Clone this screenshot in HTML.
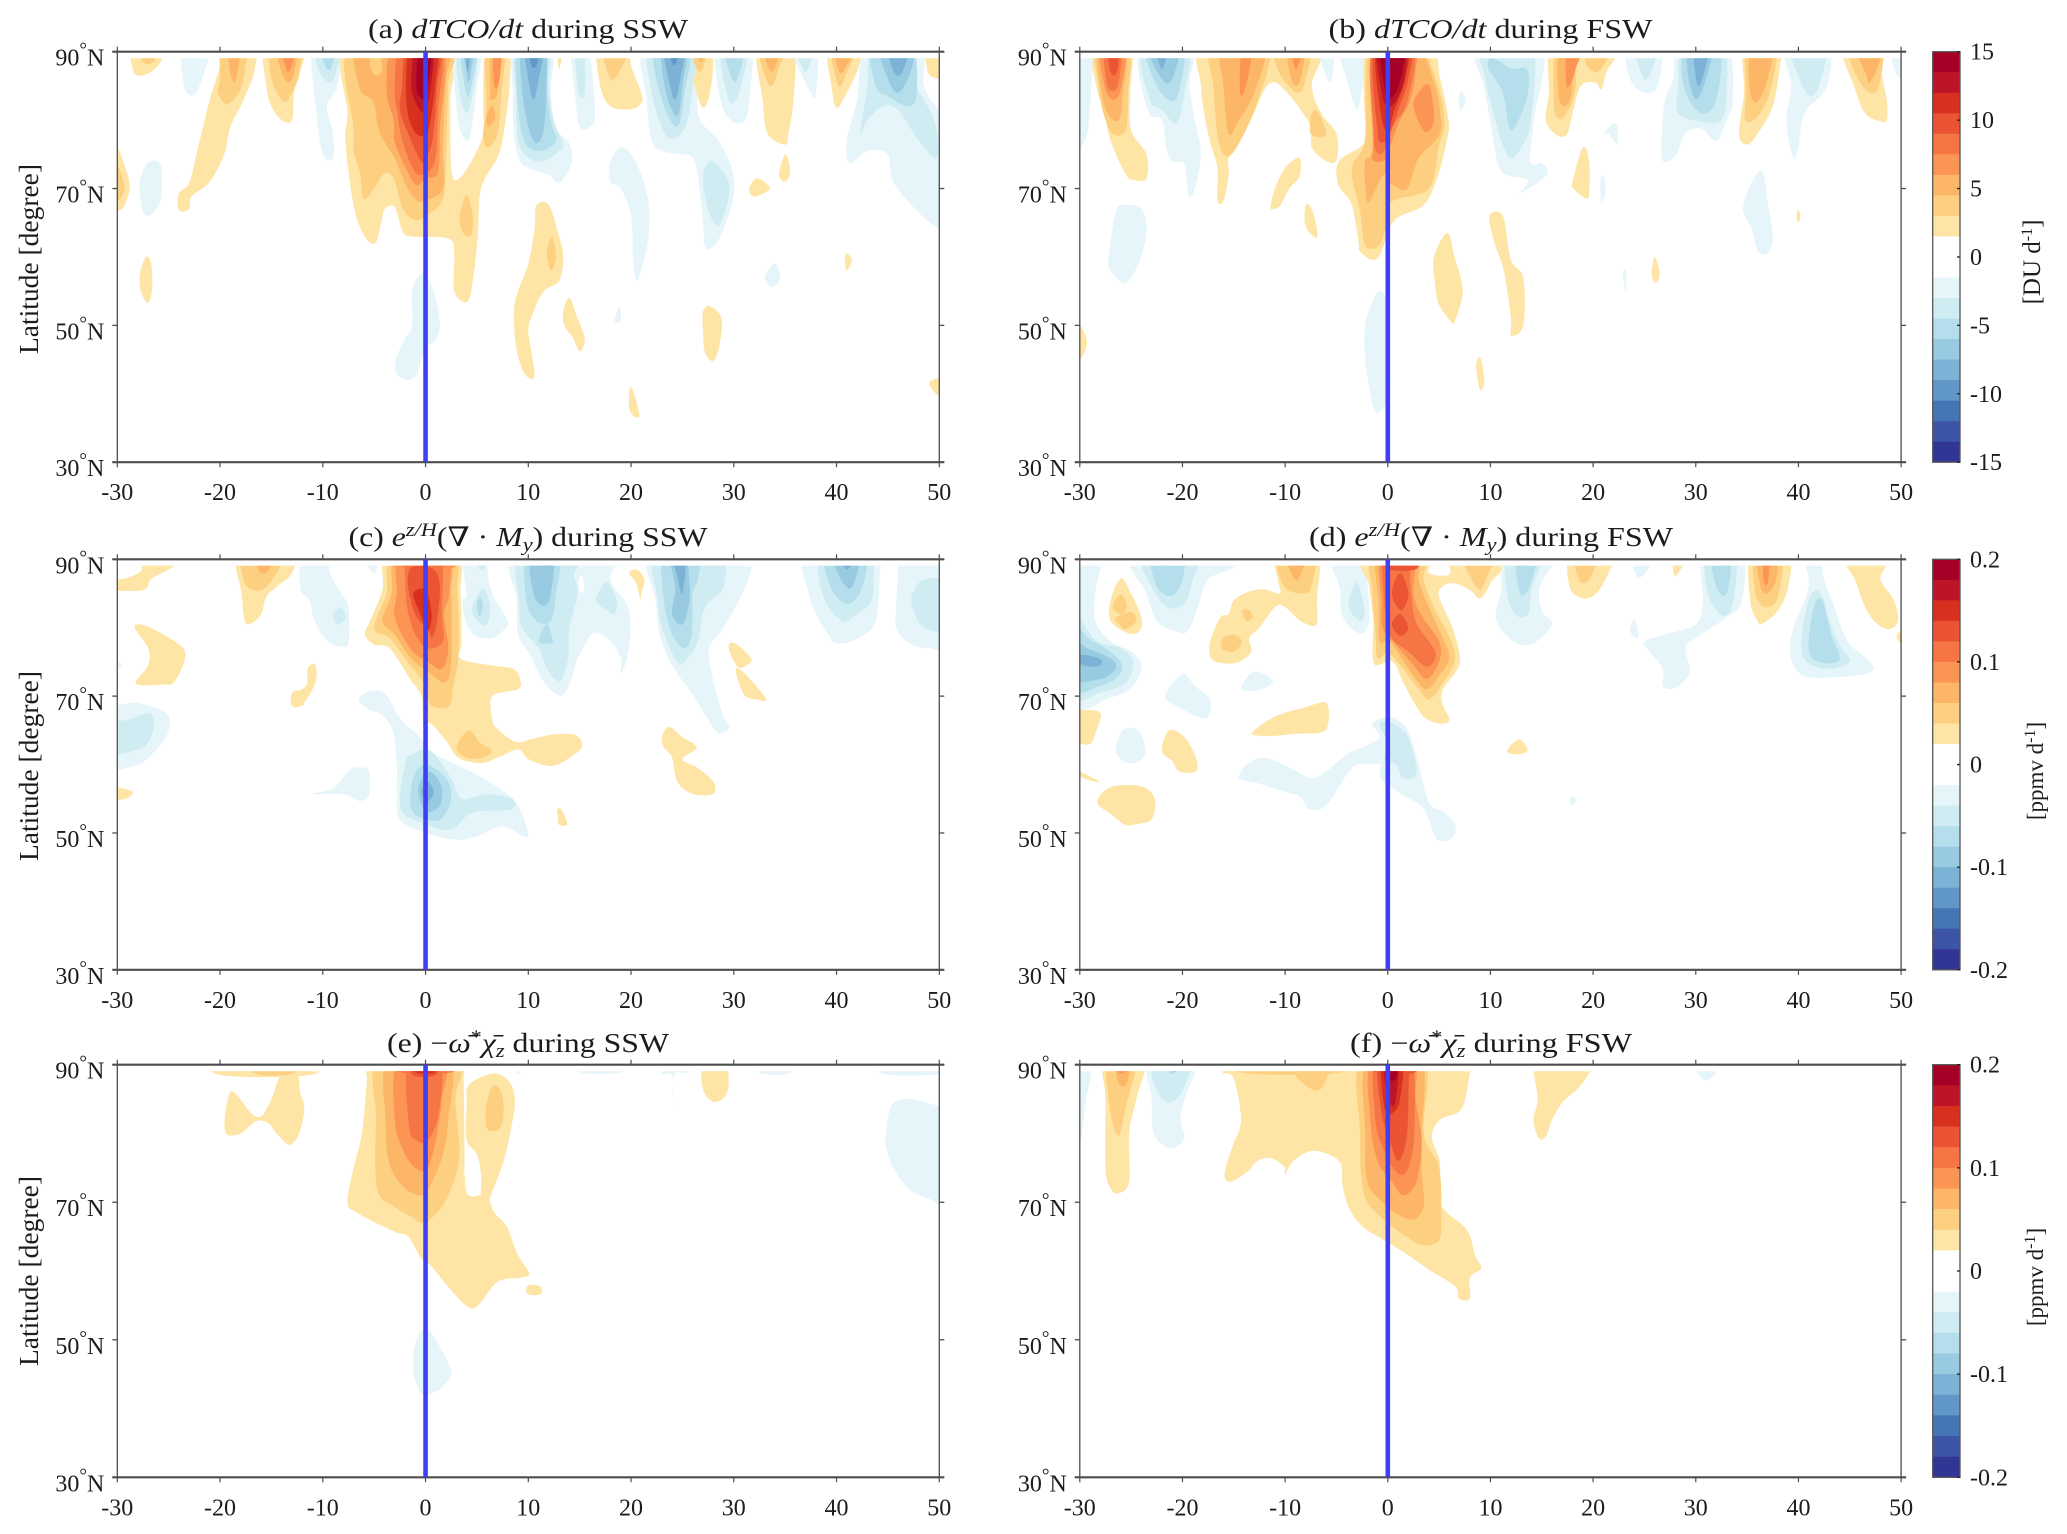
<!DOCTYPE html>
<html lang="en">
<head>
<meta charset="utf-8">
<title>dTCO/dt and ozone budget terms during SSW and FSW</title>
<style>
html,body{margin:0;padding:0;background:#fff;}
svg{display:block;filter:blur(0.35px);}
text{font-family:"Liberation Serif","DejaVu Serif",serif;fill:#1c1c1c;}
.ttl{font-size:27px;}
.it{font-style:italic;}
</style>
</head>
<body>
<svg id="figure" xmlns="http://www.w3.org/2000/svg" width="2067" height="1534" viewBox="0 0 2067 1534">
  <rect x="0" y="0" width="2067" height="1534" fill="#fff"/>
  <g id="plots"></g>

  <text class="ttl" x="528" y="38" text-anchor="middle" textLength="320" lengthAdjust="spacingAndGlyphs">(a) <tspan class="it">dTCO/dt</tspan> during SSW</text>
  <text class="ttl" x="1490.5" y="38" text-anchor="middle" textLength="324" lengthAdjust="spacingAndGlyphs">(b) <tspan class="it">dTCO/dt</tspan> during FSW</text>
  <text class="ttl" x="528" y="546" text-anchor="middle" textLength="359" lengthAdjust="spacingAndGlyphs">(c) <tspan class="it">e</tspan><tspan class="it" font-size="19" dy="-10">z/H</tspan><tspan dy="10">(∇ · </tspan><tspan class="it">M</tspan><tspan class="it" font-size="19" dy="5">y</tspan><tspan dy="-5">) during SSW</tspan></text>
  <text class="ttl" x="1491" y="546" text-anchor="middle" textLength="364" lengthAdjust="spacingAndGlyphs">(d) <tspan class="it">e</tspan><tspan class="it" font-size="19" dy="-10">z/H</tspan><tspan dy="10">(∇ · </tspan><tspan class="it">M</tspan><tspan class="it" font-size="19" dy="5">y</tspan><tspan dy="-5">) during FSW</tspan></text>
  <text class="ttl" x="528" y="1052" text-anchor="middle" textLength="282" lengthAdjust="spacingAndGlyphs">(e) −<tspan class="it">ω̄</tspan><tspan font-size="19" dy="-9">*</tspan><tspan class="it" dy="9">χ̄</tspan><tspan class="it" font-size="19" dy="5">z</tspan><tspan dy="-5"> during SSW</tspan></text>
  <text class="ttl" x="1491" y="1052" text-anchor="middle" textLength="282" lengthAdjust="spacingAndGlyphs">(f) −<tspan class="it">ω̄</tspan><tspan font-size="19" dy="-9">*</tspan><tspan class="it" dy="9">χ̄</tspan><tspan class="it" font-size="19" dy="5">z</tspan><tspan dy="-5"> during FSW</tspan></text>

  <text font-size="27.5" text-anchor="middle" transform="translate(38,259) rotate(-90)">Latitude [degree]</text>
  <text font-size="27.5" text-anchor="middle" transform="translate(38,766) rotate(-90)">Latitude [degree]</text>
  <text font-size="27.5" text-anchor="middle" transform="translate(38,1271) rotate(-90)">Latitude [degree]</text>

  <text font-size="25" text-anchor="middle" transform="translate(2040,262) rotate(-90)">[DU d<tspan font-size="16" dy="-8">-1</tspan><tspan dy="8">]</tspan></text>
  <text font-size="23" text-anchor="middle" transform="translate(2043,771) rotate(-90)">[ppmv d<tspan font-size="16" dy="-8">-1</tspan><tspan dy="8">]</tspan></text>
  <text font-size="23" text-anchor="middle" transform="translate(2043,1277) rotate(-90)">[ppmv d<tspan font-size="16" dy="-8">-1</tspan><tspan dy="8">]</tspan></text>
</svg>

<script>
/* ---------- shared scale data ---------- */
const xTickDays = [-30,-20,-10,0,10,20,30,40,50];
const yTickLats = [90,70,50,30];
const warmBands = ['#FEE5A6','#FDCF80','#FDB667','#FB9455','#F57545','#EA5433','#D7301F','#BD1528','#A50026'];
const coolBands = ['#E6F5F9','#D0ECF3','#B5DEEC','#98CAE1','#7BB2D6','#6097C7','#4575B4','#3D55A6','#313695'];
const duBarTicks = [15,10,5,0,-5,-10,-15];
const ppmvBarTicks = [0.2,0.1,0,-0.1,-0.2];
const eventDay = 0;

/* ---------- contour bands: [band number (+warm / -cool), [day,lat, day,lat, ...]] ---------- */
const panelAContours = [
[1,[-28.6,91,-28.5,87.5,-28,86.5,-26.8,87,-25.8,88.5,-25.6,91]],
[2,[-28,91,-27.5,88.5,-26.5,88.5,-26,91]],
[1,[-20,91,-20,88,-21,83,-22.2,75.6,-23,70.8,-24,69.3,-24,66.8,-23,67,-22.8,68.8,-21,71,-19.6,75,-19,79,-17.7,83,-16.7,87,-16.7,91]],
[2,[-19.8,91,-20,86,-20.2,84,-19.3,82.3,-18,84.5,-17.5,88,-17.3,91]],
[3,[-19.2,91,-19,87,-18.6,85.5,-18.3,87,-18,91]],
[1,[-15.6,91,-15.5,85,-15,82,-14,80,-13,80,-12.8,84,-12.2,87,-11.9,91]],
[2,[-15,91,-15,86,-13.8,82.7,-13,84,-12.3,87,-12.2,91]],
[3,[-14.5,91,-14,87,-13.3,85.5,-12.8,87,-12.5,91]],
[4,[-14,91,-13.5,87.2,-13,88,-12.8,91]],
[-1,[-27.8,71,-27,73.8,-25.8,73.5,-25.7,69,-26.2,67,-27,66,-27.6,67]],
[1,[-31,76.5,-30,76,-29,72,-28.8,70,-29.3,67.5,-30,66.6,-31,66]],
[2,[-31,74,-30,73.5,-29.3,70,-30,68,-31,67.5]],
[1,[-27.8,57.5,-27.2,60,-26.7,59,-26.6,55.5,-27,53.3,-27.7,55]],
[-1,[-23.6,91,-23.5,85,-22.7,83.6,-22,85,-21,91]],
[-1,[-11,91,-10.6,81,-10,75,-9,74.4,-9,78,-9.6,82,-8.6,85,-8.2,91]],
[-2,[-10.8,91,-10.3,87,-9.3,85.5,-8.7,87,-8.3,91]],
[-3,[-10.4,91,-9.8,88,-9.2,87.5,-8.8,91]],
[1,[-7.6,91,-7.6,81,-7.8,76.8,-7,67.6,-6,63.2,-4.9,62,-4.3,65.1,-4,67,-3,67.3,-2.3,64,-1.5,63,2.2,62.7,2.8,60.5,2.8,55,4.1,53.5,4.7,57.6,5.1,63.4,5.4,70,7,74.6,7.6,78,8.2,85.4,8,91,5.9,91,5.6,83,5.6,78,4.4,73.8,3.1,71.3,2.5,73,2.4,83,2.3,91]],
[2,[-7.3,91,-7,78.8,-7,75.4,-6.4,72.4,-6,68.5,-4.8,70.5,-4,72.2,-3.1,71.5,-2.2,67,-1,65.4,0,66,1.7,68.5,2,75,2.2,85,2.2,91]],
[3,[-7.1,91,-6.4,84.6,-5.1,82.7,-4.6,78.8,-3.8,76.3,-3,74.4,-1.9,70.5,-0.9,68.3,0,68.3,1.7,70,1.7,76.3,2,86,2.2,91,-3.9,91,-4.2,87.5,-4.8,86.5,-5.4,88,-5.6,91]],
[4,[-3,91,-3.8,84.6,-3.1,79.8,-3,76.8,-1.9,72.9,-0.9,70.5,0,71.5,1.2,72.4,1.4,78.8,1.7,91]],
[5,[-2.3,91,-3,84.6,-2.7,80.7,-2.3,77.3,-1.4,73.4,-0.5,72,0.9,74,1.2,81.2,1.5,91]],
[6,[-1.7,91,-2.3,84.6,-2.5,81.7,-1.9,78.8,-0.5,74.1,0,74.4,0.7,77.3,1.1,84.6,1.4,91]],
[7,[-1.4,91,-1.9,85.6,-1.7,80.7,-0.9,78,0,77.8,0.4,79.3,0.9,84.6,1.1,91]],
[8,[-0.9,91,-1.4,85.6,-1,82.7,-0.2,81.2,0.4,83.7,0.75,91]],
[9,[-0.55,91,-0.9,86,-0.7,83.7,0,83,0.25,85,0.6,91]],
[2,[5.9,91,5.9,82,5.6,78,6,76,7,78,7.4,84,7.7,91]],
[3,[6.4,91,6.3,84,6.3,83,7,84,7.4,91]],
[3,[5.9,80,6.4,82.2,6.8,80.5,6.2,79]],
[4,[6.6,91,6.7,85,7.2,86,7.4,91]],
[2,[3.3,66,4,69,4.6,66,4.5,63.5,4,63,3.5,64]],
[-1,[2.8,91,3,82,3.5,78,4.2,77,4.6,80,5,85,5.4,91]],
[-2,[3.1,91,3.3,84,4,81,4.6,84,5.1,91]],
[-3,[3.4,91,3.7,86,4.1,83.5,4.6,86,5,91]],
[-4,[3.6,91,3.9,88,4.2,85.5,4.5,88,4.8,91]],
[-5,[3.8,91,4.1,87,4.4,91]],
[-1,[8.6,91,8.5,84,8.6,78,9.2,74,10.5,72.7,12,72,13,70.8,14.2,73.7,14,76.6,12.6,79,12.2,84,12.2,91]],
[-2,[8.8,91,8.8,84,9,77,10,74.5,11.5,74,13,75.5,13.4,76.5,12.5,80,12,85,12,91]],
[-3,[9,91,9,82,9.7,76.6,11.2,75.5,12.7,77,12.2,80,11.8,85,11.7,91]],
[-4,[9.3,91,9.6,82,10.5,77,11.3,77.5,11.7,82,11.6,91]],
[-5,[9.7,91,10,86,10.5,83,11,86,11.5,91]],
[-6,[10,91,10.3,88,10.8,88,11.1,91]],
[1,[12.8,91,13,87.5,13.4,91]],
[-1,[14.2,91,14.6,83,15,79,16,79,16.5,81,15.8,91]],
[-2,[14.5,91,14.9,84,15.5,84,15.4,91]],
[1,[16.8,91,17,85,18,82,20,81.6,21,82.5,21,84,20,88,19.7,91]],
[2,[17.3,91,18,86,19,87.5,19.8,91]],
[-1,[21.2,91,21.5,83,22,77,23,75.5,25,75,26,74.5,26.5,72,27,65,27.2,61.5,28,61.5,29,64,30,69,29.8,73,28.5,77,26.5,81,26.3,91]],
[-2,[21.8,91,22,84,23.3,78,24.5,77.5,25.5,80,26,85,26.2,91]],
[-2,[27,72,28,74,29.5,71,29.4,68,28.5,64.5,27.5,67]],
[-3,[22.2,91,23,83,24.5,79,25.2,84,25.7,91]],
[-4,[23,91,23.4,84,24.5,80.5,25,85,25.4,91]],
[-5,[23.2,91,23.8,85,24.3,83,24.8,86,25.2,91]],
[-6,[23.6,91,24.2,88,24.8,91]],
[1,[25.4,91,26,86,27,81.8,27.8,85,27.8,91]],
[2,[25.7,91,26.7,87,27.4,91]],
[3,[26,91,26.8,88.5,27.2,91]],
[-1,[28.3,91,28.7,83,29.7,80,31,79.8,31.5,83,31.6,91]],
[-2,[28.7,91,29.5,83,30.5,84,31.3,91]],
[-3,[29,91,30.1,85.5,31,91]],
[1,[32.3,91,32.8,83,33.3,78,35,76.4,35.3,78,35.8,83,35.7,91]],
[2,[32.4,91,33.5,85,34.5,88,35,91]],
[3,[32.8,91,33.7,87,34.5,91]],
[1,[34.4,72,35,75,35.5,72.5,35,71]],
[1,[31.5,70,32.3,71.5,33.5,70,32,68.8]],
[-1,[35.5,91,37.5,84,38,84,38,91]],
[-2,[36,91,37,87,37.8,91]],
[1,[39.2,91,39.5,85,40,81.8,41,84,42.2,88,42.2,91]],
[2,[39.5,91,40.2,85,41,87,42,91]],
[3,[39.8,91,40.3,87,41,88,41.8,91]],
[-1,[43,91,42,83,41,77,41.3,73.7,43,75.5,45,75,45.5,71,48,66.5,50,64,51,64,51,81,50,81.5,48.5,85,48.2,91]],
[-2,[43.5,91,43,85,42.3,78,43,80,44.5,82,46,81.5,48,77,49.8,74.5,49.5,80,47.5,86,47.5,91]],
[-3,[43.5,91,43.8,85,45,83.5,47,82,47.8,84,47.3,91]],
[-4,[44.2,91,45,86,46,84,47.2,87,47.4,91]],
[-5,[45,91,45.6,87,46.4,87,47,91]],
[1,[48.8,91,48.9,87,50,86,51,86,51,91]],
[-1,[18,71,18,74,19,76,20,75,21,72,21.7,68,21.7,63,21,58,20.5,56.5,20.2,60,20,66,19,70]],
[1,[10.8,67.5,12,67.6,13,63,13.4,60,13,56.5,11.5,55,10.5,52,10,49.5,10.2,47,10.6,42.5,9.6,43,8.8,47,8.6,52,9,55,10,59,10.6,64]],
[2,[11.8,60.5,12.3,63,12.7,60,12.2,58]],
[1,[13.4,52,14,54,14.8,51,15.5,48,15,46.2,14.3,48.3,13.5,50]],
[1,[27,52,27.7,52.8,28.8,51,28.6,47,28,44.8,27.2,46,27,49]],
[-1,[33,57,34,59,34.5,57,33.8,55.6]],
[1,[40.8,59.5,41,60.5,41.5,59.5,41,58]],
[-1,[18.4,50.7,18.9,52.8,19,50.6]],
[-1,[-2.9,45,-2,48,-1.3,50,-1.3,55,-0.3,57.6,0.8,55,1.4,50,0.8,47.5,0,47,-0.8,43,-1.8,42,-2.8,43]],
[1,[19.8,38,20,41,20.8,37,20.3,36.7]],
[1,[49,41.5,50,42.3,51,42,51,39.5,50,39.6]]
];

const panelBContours = [
[1,[-28.8,91,-28.4,85,-27.6,81,-27,77,-25.5,72,-24.6,71.2,-23.5,71.5,-23.5,75,-25,78.5,-25.1,84,-25.1,91]],
[2,[-28.4,91,-28.2,85,-27.7,81,-26.8,78,-25.5,78.6,-25.3,84,-25.2,91]],
[3,[-28.2,91,-28,85,-27.3,81,-26.2,80,-25.8,84,-25.5,91]],
[4,[-28,91,-27.6,85,-26.8,83,-26,84.5,-25.6,91]],
[5,[-27.6,91,-27.3,85,-26.3,85,-26,91]],
[6,[-27.3,91,-27,87,-26.4,87,-26.2,91]],
[-1,[-31,91,-28.9,91,-29,82,-29.5,77,-31,76]],
[-1,[-24.2,91,-23.4,81.5,-22,80,-21.6,76,-21,74,-19.8,73.5,-19.4,69,-18.8,70,-18.2,75,-18.8,80,-19.3,85,-19.2,91]],
[-2,[-24,91,-23.2,83,-22,81.5,-20.6,79.5,-19.8,84,-19.5,91]],
[-3,[-23.6,91,-22.5,85,-21,82.8,-20.2,85,-20,91]],
[-4,[-23.4,91,-22,86,-21,86,-20.4,91]],
[-5,[-22.6,91,-22,87.5,-21.4,91]],
[1,[-17.7,91,-18.2,85,-17.5,78,-16.6,73,-16.6,68.3,-16,68.2,-15.5,72,-15.4,75,-13.5,79.5,-12,84.5,-11,85.5,-9.8,84,-8.5,81.5,-7.5,79,-7.4,76,-6,74,-5,74.2,-5,78,-6.5,81,-7.4,85,-7.1,91]],
[2,[-17.2,91,-17,85,-16.5,77,-15.5,74.7,-14,78,-12.5,83.5,-11.6,88,-11.8,91]],
[3,[-16.2,91,-16,85,-15.5,78,-14.5,80,-13,84,-12,91]],
[4,[-14.2,91,-14.4,84,-13.8,85,-13.2,91]],
[2,[-11,91,-10.6,87,-8.8,84,-8,86,-7.6,91]],
[3,[-9.8,91,-9.4,86,-8.6,85.5,-8.1,91]],
[4,[-9.4,91,-9,87.5,-8.5,89,-8.4,91]],
[2,[-7.5,80.5,-7,81.5,-6.4,80,-6,78,-6.5,77.5,-7.5,78]],
[1,[-11.4,67.5,-11,70,-10,73,-8.6,74.5,-8.6,71.8,-9.6,70,-10.5,67.5,-11.3,67]],
[1,[-8,67.6,-7.4,67,-6.9,64,-7,62.8,-8,64.5]],
[-1,[-6.9,91,-5.6,85.5,-5.3,91]],
[-1,[-4.8,91,-3.8,85,-3,81.5,-2.5,85,-2.4,91]],
[1,[-1.85,91,-2.2,78.3,-2.5,76.3,-4.8,73.9,-4.8,70.5,-3.6,68,-3.1,64.6,-2.8,61.7,-2.8,61,-1.8,59.7,-0.9,60,0,63.4,0.3,64.6,1.1,65.9,3.5,67.6,4.8,71.5,5.8,77.3,5.9,80.2,5.1,86,4,91]],
[2,[-1.7,91,-2.2,77.3,-3.5,72.9,-2.7,66.6,-2.2,61.7,-1,61.5,-0.2,64,0.3,68,4,70,5,76.3,5.5,78.8,5.3,82.7,4.2,88,3,91]],
[3,[-1.5,91,-1.5,76.3,-2.2,74.1,-2.2,70.5,-1.85,68,-0.4,72,0.5,70.5,1.9,70,3,74.4,5,77.8,5.1,81.2,4.5,85.6,2.7,91]],
[4,[-1.5,91,-1.4,77,-1.5,74.2,-0.2,74.2,0.3,76.5,1.2,80,2.2,83,2.7,87,2.5,91]],
[4,[3,84,4,85.2,4.5,81,4.3,79,3.6,78.3,2.8,80.5,2.5,82.5]],
[5,[-1.4,91,-1.4,79,-1.2,75.6,-0.4,75.4,0.6,79.3,1.9,82.7,2.5,91]],
[6,[-1.3,91,-1,78.3,-0.4,76.8,0.1,77.8,1.2,82.2,2,86,2.2,91]],
[7,[-1.1,91,-0.7,81.2,0,78.3,0.6,81.2,1.7,86,1.9,91]],
[8,[-1,91,-0.55,83.7,0,82,0.75,82.7,1.6,86,1.7,91]],
[9,[-0.7,91,-0.4,85.6,0,83.2,0.75,84,1.4,87,1.55,91]],
[-1,[-2.2,50,-1.6,53,-0.8,55,0,53,0.2,47,0.2,40,-0.7,37.5,-1.4,38,-2.2,45]],
[-1,[8.7,91,9.4,84.6,10,79.8,10.6,74.4,11.3,72.2,13.2,71.5,13.7,71,12.9,69.3,15.5,72,15,73.7,13.9,73.9,14.2,79.8,15,91]],
[-2,[9.1,91,9.5,86,10.6,79.3,11.3,76,12,74.4,13,76,13.9,79.8,14,91]],
[-3,[9.8,87.5,10,89,11,88.5,12,87.5,13.6,87.3,13.5,83,12,78.5,11.2,84]],
[-1,[6.9,83,7.1,84.2,7.6,83,7.1,81.5]],
[1,[16.2,91,15.7,84,15.4,80,16.3,78,17.4,77.8,18,81,18.8,85,20.2,85.5,20.8,84.5,21.3,87,22.3,91]],
[2,[16.4,91,16.2,82,17,80.3,18.2,84,18.2,91]],
[2,[19.2,91,19.4,88,20.3,87,21,88,21.8,91]],
[3,[16.7,91,16.6,84,17.2,82,17.9,84,18,91]],
[4,[17.5,91,17.4,85,18,86,18.4,88,19.2,91]],
[-1,[21,78,22.2,79.5,22.4,76.5,21.5,78]],
[1,[18,71,19,76,19.6,74,19.6,69,19,68.8,18.1,70]],
[-1,[20.7,71,21,72,21.2,69.5,20.8,68]],
[-1,[23.3,91,23.6,86,25,84,26.3,85,26.5,91]],
[-2,[24,91,25,86,25.9,88,26,91]],
[-1,[28.5,91,27.8,86,27,83,26.7,78,26.8,74,28,74.8,29,78,30.5,78.8,32,77,33,80,33.6,83,33,91]],
[-2,[28.8,91,28.3,85,28.3,81,30.5,79.8,32.5,80,33,84,32.6,91]],
[-3,[29,91,28.8,85,30.5,81,32,83,32.3,91]],
[-4,[29.4,91,29.2,87,30,83,31,86,31.6,91]],
[-5,[29.8,91,30.2,85,31,88,31.2,91]],
[1,[34.8,91,34.7,84,34.2,78,35,76.4,36,78,37.5,82,38.2,88,38.3,91]],
[2,[35,91,34.9,84,34.8,80,36,80.5,37.2,84,37.8,91]],
[3,[35.4,91,35.2,85,35.8,82.5,36.8,85,37.5,91]],
[-1,[38.7,91,39.3,85,38.8,80,39.5,74.5,40,76,40.6,81,42.8,85,42.8,91]],
[-2,[39.2,91,40.4,85,41.2,83.5,42,85,42.6,91]],
[1,[44.3,91,45.4,85,46.5,81,48,79.8,48.6,80,48.6,83,48,88,48.5,91]],
[2,[44.8,91,46,85.5,47.5,84,48.2,88,48,91]],
[3,[45.6,91,46.5,87,47,85.5,48,89,48.2,91]],
[-1,[49,91,49.6,86.5,51,86,51,91]],
[-1,[34.6,67,35.5,71,36.5,72.5,37,68,37.5,63,37,60.5,36,61,35.5,64]],
[1,[39.8,66,40,66.8,40.2,66,40,65]],
[-1,[-27.2,60,-26.5,66.5,-25.8,67.6,-24,67,-23.5,64,-24,60,-25,57,-25.8,56.2,-27,58]],
[1,[4.5,60,5.8,63.5,6.5,60,7.3,55,6.5,50.5,6.2,50.5,5,53,4.6,56]],
[1,[9.9,66,11.2,66,12,59.5,13.2,57,13.2,50,12,48.5,12,51,11.3,58,10.4,62]],
[1,[8.6,44,9,45.3,9.4,42,9,40.5]],
[1,[25.7,57.5,26,60,26.5,57.5,26.1,56.2]],
[-1,[22.9,57.5,23.2,58,23.2,54.5]],
[1,[-31,50,-30,50,-29.3,47.5,-30,45,-31,45]]
];

const panelCContours = [
[1,[-31,85.6,-27.5,85.5,-26.8,87,-25.7,88,-24.5,89,-23,91,-27.6,91,-27.6,88.5,-29,87.3,-31,86.8]],
[1,[-18.2,91,-17.9,85,-17.6,81,-17,80.6,-16,82,-15.5,84.5,-14.5,86,-13,88,-13,91]],
[2,[-17.7,91,-17.6,86.5,-16,85.5,-14.5,88,-14,91]],
[3,[-16.8,91,-16,88,-15,89,-14.8,91]],
[1,[-28.3,80,-27.5,80.4,-25.5,79,-23.6,77,-23.5,75,-24.5,72,-25.5,71.7,-28.2,71.8,-27,74.5,-27,77]],
[1,[-11.5,74,-10.8,74.7,-10.6,73,-11,71,-11.8,69,-12,68.6,-13,68.5,-13,70.5,-12,71,-11.5,72]],
[-1,[-11.9,91,-12.2,85.8,-11.3,84,-10.8,81,-9.5,78,-8,77.2,-7.5,78,-7.5,83,-8.2,85,-9.3,88,-9.6,91]],
[-2,[-9,82,-8.2,83,-7.8,81.3,-8.6,80.5]],
[-2,[-10.8,91,-10,89.7,-9.7,91]],
[-1,[-6.2,91,-5,88,-4.6,91]],
[1,[2.9,91,3.4,85,3.5,78,3.4,75.5,6.3,74.5,8.5,74,9.2,72.5,9,71,6.5,70,6.5,66.5,7,65.2,8.8,63.3,10.5,63.8,12.5,64.4,14.6,64.3,15.2,62.5,13.5,60.5,12,59.8,10,60.8,9,62.2,7,61,5.4,60.2,3.2,61,2,63.5,0.5,66,-0.2,66,-0.4,70,-1.5,72.5,-3.5,77,-5,77.5,-5.9,79,-5.4,81,-4.2,85.5,-3.6,91]],
[2,[-3.2,91,-3.8,85,-5,80,-3.5,78.5,-2,75.5,0,71.5,0.5,68.7,2.3,68.5,2.7,71.5,3.2,76,3.1,85,2.6,91]],
[2,[3,62.5,4.2,65,5.3,63.2,6.5,62,5.5,61,4,61]],
[3,[-2.8,91,-3.3,85,-4.2,81,-3,79,-1.4,75.5,0.3,73.5,1.9,72,2.5,75,2.5,85,2.3,91]],
[4,[-2.5,91,-2.8,85,-3,81.5,-1.5,77,0.2,75,1.6,74,2.2,77,1.8,82,2.3,85,2,91]],
[4,[-2.8,91,-2.6,88.8,2.7,88.8,2.8,91]],
[5,[-2,91,-2,88,-1.8,83,-1,79,0.2,77,1.7,78,1.6,82,1.7,88,1.5,91]],
[6,[-1.6,88.3,-1,89,0.8,88.5,1.4,86,1.2,82,1,80,0.6,78.5,0.3,79.5,-1,82,-1.7,86]],
[7,[-1.2,85,0,85.5,0.6,82,0.2,79.5,-0.5,82]],
[-1,[3.7,91,4,85,3.6,84,4,80.5,5,78.7,6.5,78.5,7.5,79.5,8,81,6.5,85,6,89,6.5,91]],
[-2,[5,84.5,5.7,85.7,6.3,83,6,80.5,5.2,80.8,4.5,82.5]],
[-3,[5,83.5,5.3,84.5,5.6,83,5.2,81.7]],
[-2,[4.1,91,5.5,88.5,6.2,91]],
[-1,[8.7,91,8.9,84,9,79,10.2,76,11.3,72.5,12.5,70.5,13.4,70.2,14.2,72.5,14.8,75.5,15.8,78.2,16.5,79.3,18,78,19,75.5,19,73.3,19.6,75.5,19.9,79,19.7,83,18,87,18.2,91]],
[0,[14.9,87,15,85.3,15.4,85.5,15.3,87.5]],
[-2,[9.2,91,9.1,84,9.4,80,11,77,12,73.5,13.2,72.3,13.9,76,14,80,14.8,85,14.5,88,15.5,91]],
[-2,[16.6,84,17.6,86.7,18.6,84,18.4,82,17.6,82.6]],
[-3,[9.9,91,9.8,84,10.8,81,12.2,81,12.7,85,13,91]],
[-3,[11,78,11.8,80.5,12.4,78,12,77.7]],
[-4,[10.2,91,10.5,85,11.5,83.2,12.2,85,12.4,91]],
[-5,[10.2,91,11,89.2,12.5,89.2,13,91]],
[-6,[11,91,11.8,89.5,12.7,91]],
[-1,[22,91,22.4,84,22.8,79,24,74.5,25.9,70.4,28.2,65,28.9,64.7,29.6,65.5,29,67,27.9,73,27.6,77,29,80,31,85.5,31.7,89,31,91]],
[-2,[22.4,91,22.6,84,23,80,24.5,75,25.5,75.5,26.5,78,27.2,83,29,86,28.5,91]],
[-3,[23.2,91,23.2,84,24,79,25.2,77,25.9,79,26,85,26.5,87,26.5,91]],
[-4,[23.7,91,24.3,86,24,82,25,80.5,25.7,84,25.6,88,25.4,91]],
[-5,[24,91,24.5,87.5,25,85,25.3,91]],
[-6,[23.5,91,24.5,89,25.8,91]],
[-1,[37,91,37.3,85,38,82,39.2,79,40,77.7,42,78.4,43.8,81,44.2,88,44.1,91]],
[-2,[38.6,91,38.6,85,40.5,81,42,82,43.4,84,43.6,88,43.3,91]],
[-3,[39,91,39.4,86,41,83.5,42.4,85.5,42.8,91]],
[-4,[39.8,91,40.2,87.7,41.3,85.7,42,88,42.3,91]],
[-5,[40.4,91,41,88.5,42,91]],
[-1,[46,88,45.8,83,45.8,80,47,77.8,49,77,51,78,51,91,46.5,91]],
[-2,[47.4,85,48.5,87,51,86.5,51,80,48.5,80,47.4,83]],
[1,[19.8,88,20.6,88.5,21.3,87,21,85,20.9,84.2,20.5,86.5]],
[1,[33.2,91,34.3,89,35.5,91]],
[1,[29.5,77,30,77.8,31.7,75.5,31,74.3,30.3,74.4]],
[1,[30.2,73.6,30.8,73.7,33.1,69.7,32.3,69.5,31,70.2]],
[-1,[-31,69,-30,68.7,-28,69,-25.2,67.5,-25,65,-26,62.5,-28,60,-31,60]],
[-2,[-31,66,-29,66.5,-26.8,67.5,-26.5,65,-27.5,62.5,-30,61.5,-31,61.5]],
[-1,[-31,76,-29.6,74.5,-31,73.7]],
[1,[-31,56.7,-30,56.7,-28.5,56,-29.2,55,-31,54.8]],
[-1,[-6.5,69.5,-5.5,70.7,-4,70.5,-2.8,67.5,-2,66,-0.4,63.8,0.3,62,3,60,5,58.5,7.5,56.2,9,54,10,50,9.5,49.5,7.5,51,5,49.5,3,49,0,50,-2.5,52,-2.8,56,-2.8,60,-3.2,65,-4.3,67.3,-5.5,68]],
[-2,[-2,60,-1.3,61.5,0.5,62,2.5,58,3.5,55,6,55.7,8.4,55,8.3,53.4,4.6,53,2.5,50.5,0,51.3,-2.4,53.5]],
[-3,[-1.2,58,0,60,2,58,2.5,55,1.5,52,0,52,-1.4,53.5]],
[-4,[-0.7,56.5,0.3,59,1.5,57,1.4,54,0,53.2]],
[-5,[-0.4,56,0.2,57.5,0.8,56,0.2,54.6]],
[-1,[-11,55.7,-9,56.5,-7.5,59,-6.5,59.6,-5.5,59,-5.5,55.5,-6.5,54.7,-8,55.7]],
[1,[12.8,53.3,13.2,53.5,13.8,51.3,13,51.2,12.9,52]],
[1,[23,64,23.7,65.5,25,64,26.4,62.5,25,60.8,26.5,59.5,28,57.5,28,55.7,26,55.7,24.5,57.5,24,61,23.2,62.5]]
];

const panelDContours = [
[-1,[-31,91,-28,91,-28.5,85,-28.5,81,-27,78,-25,76.5,-24,74.5,-24.8,71.5,-27,69.8,-31,69.5]],
[-2,[-31,84,-29.8,81,-28.3,78,-26,77,-24.8,75,-25.5,72,-28,70.5,-31,70.3]],
[-3,[-31,81,-29.2,78.5,-27.5,77,-26,75,-26.2,73,-28,71.5,-31,71]],
[-4,[-31,78,-29,76.8,-27,75.5,-26.5,74,-28,72.5,-31,72.5]],
[-5,[-30,76,-28.5,75.7,-27.8,75,-28.5,74.3,-30,74.7]],
[1,[-27,84,-26,87.2,-25,85,-24,81.5,-24.2,79.5,-25.3,79.2,-27,81]],
[2,[-26.8,83,-26,84.9,-25.4,83,-26,82]],
[2,[-26.5,81.5,-25,82.3,-24.5,81,-25.5,79.8,-26.2,80.5]],
[-1,[-24.7,91,-23.5,85,-22.5,81,-20.7,79.5,-19.5,79.5,-18.5,83,-17.5,87,-15,88.8,-13,91]],
[-2,[-24,91,-23,86,-21.5,83,-19.8,83.5,-19,87,-18.5,91]],
[-3,[-23,91,-22.5,86,-21,84.7,-20,87,-20,91]],
[-4,[-22.8,91,-21.5,89,-20.3,91]],
[1,[-17.3,78,-17.2,75.5,-16,74.8,-14.5,75,-13.3,76.5,-13.5,78.5,-12.5,80,-11,83,-10,83,-8.5,81,-7,80.4,-6.9,84,-6.9,91,-10.9,91,-10.7,87,-10.5,85,-12,85.6,-13.5,85.3,-15,84,-15.5,82,-16.3,81.5]],
[2,[-16,78.5,-15,79,-14.2,78,-15,76.5,-16.2,77]],
[2,[-14.2,82.5,-13.4,82.5,-13.2,81.5,-13.8,81]],
[2,[-10.7,91,-10.2,86.2,-8.5,85,-7.5,85.8,-7.2,91]],
[3,[-10,91,-9,87,-8.3,88.5,-7.8,91]],
[4,[-9.5,91,-8.7,89.2,-8,91]],
[-1,[-5.8,91,-4.7,86,-4.5,82,-3.2,79.5,-2.2,79.5,-1.8,82,-2.1,88,-2.5,91]],
[-2,[-3.7,84.5,-3,86.6,-2.3,83,-2.5,81,-3.2,81.5,-3.8,83]],
[1,[-1.8,91,-1.8,86,-1.4,81,-1.5,77,-1.4,75,-1,74.5,0.5,75,1.5,72,2.4,69.5,3.5,67,5,66,6,66.5,5.3,69,5.4,71,6.8,74,7,76,6.3,80,5,84.5,5.3,86,6.5,86.5,8,85.5,9,84.3,10,86.5,11.2,91]],
[0,[4,88,4.2,89,5.9,89,6,87.8,5,87.6]],
[2,[7.3,91,8,87.5,9,85.6,9.8,88,10.5,91]],
[3,[8.5,91,9.3,89,10,91]],
[2,[-1.5,91,-1.5,85,-1.2,79,-1,75.5,0,76.3,1.5,74,3,71,4,69.5,5.2,71.5,6.5,75,6.2,78,4.5,83,3.5,87,3.5,91]],
[3,[-1,91,-0.9,84,-0.8,78,0.2,78,2,74,3.7,71,5,73,6,75.5,5.5,78,4,83,3,87,3,91]],
[4,[-0.7,91,-0.6,84,-0.5,80,0.8,77.5,2.5,74.5,3.8,72.5,5,75,5,78,3.2,82,2.5,85,2.5,91]],
[5,[-0.4,91,-0.4,85,0.2,79,2,76.5,3.8,74.3,4.7,76,4,78,2.7,81,2.2,86,2,91]],
[6,[0.4,85,1.2,88,2,85,1.3,82.5]],
[6,[0.4,80.5,1.2,82,2,80,1.2,78.8]],
[6,[-0.5,91,0,88.6,2.8,88.6,2.6,91]],
[-1,[-1.5,66,0,67,1,66.5,2,64.8,3,60,4,54.5,5.5,53,6.6,51,6.2,49.2,4.8,49,4,52,3.2,54,1,56,-0.7,58,-0.7,60,-1.5,60,-3,60,-4,58.5,-5.5,55,-6.5,53.5,-7.7,53.5,-8.5,55.2,-10,56,-13,57.4,-14.5,58,-13.7,60,-12,61,-9.5,59.5,-7.5,58,-6,59,-4,61.5,-2.5,62.5,-0.8,64]],
[-2,[-0.8,66,0.5,66,2,64,2.8,58.7,1.5,58,0.8,60,-0.3,60.6,0,63]],
[1,[-31,68,-29.8,68,-28,67.5,-28.5,64.5,-29,63,-30,63,-31,62.9]],
[-1,[-26.5,62,-25.8,65,-24.3,65,-23.6,62,-24.2,60.5,-25.5,60.3]],
[1,[-22,62,-21.3,65,-19.8,64,-18.7,61,-18.7,59,-20.3,59,-21,60.5]],
[1,[-13.2,64.7,-11,67,-8,68.4,-6,69,-5.8,66,-6.5,64.7,-9,64.5,-11,64.2,-12.5,64.2]],
[-1,[-21.7,70,-20,73.2,-18.8,71.5,-17.3,69.5,-17.5,67,-18.5,67,-20.5,68.5]],
[-1,[-14.3,71.3,-13,73.6,-11.2,72.3,-12,71.2,-13.5,70.7]],
[1,[-28.3,54.5,-27,56.7,-24,56.8,-22.7,55,-23,52,-24.5,51.3,-25.6,51.2,-27,52.8]],
[1,[-31,59.5,-30,59,-28,57.4,-30,58.2]],
[1,[11.6,62,12.8,63.7,13.6,62,12.5,61.5]],
[-1,[17.7,54.8,18,55.4,18.3,54.8,18,54]],
[-1,[23.8,91,24.5,87.3,26.2,91]],
[1,[27.8,91,28,87.5,29.2,91]],
[1,[17.9,91,17.7,86,19,84.3,20.3,85,21.5,88,22,91]],
[2,[18.3,91,18.6,87,19.6,87,20.5,91]],
[3,[19,91,19.6,89,20.2,91]],
[-1,[11.7,91,11,85,10.5,81.5,11.5,79,13,77.5,14.5,78,16,80.5,15,82.5,14.8,86,16,89,17,91]],
[-2,[11.7,91,11.6,85,12.5,81.8,13.7,82,14,85.5,15,91]],
[-3,[12.5,91,12.9,85,13.8,86,14.5,91]],
[-4,[12.5,91,13.3,89,14.7,91]],
[-1,[23.6,79.5,24,81.2,24.4,79,24.2,78.5]],
[-1,[30.7,91,30.7,84,30,80.5,27,79,25,78,25.5,76.5,26.8,74,26.8,71.5,28,71.2,29.4,73.5,29,77,30,78.5,33,81.5,34.5,84,34.5,91]],
[-2,[31,91,31.2,85,32.5,81.8,33.5,83,34,88,33.8,91]],
[-3,[31.5,91,32,86,33,85,33.4,91]],
[-4,[31.5,91,32.5,89,33.2,91]],
[1,[35.4,91,35.3,84,36,81,36.5,80.6,38,82.5,39,86,39,91]],
[2,[35.8,91,35.8,85,36.8,83,38,84.5,38.4,91]],
[3,[36,91,36.3,86,37,85,37.8,87,37.9,91]],
[4,[36.6,91,36.6,87,37,86.5,37.2,91]],
[-1,[40.5,91,41,86,39.5,80,39.2,76,40.5,73,44,72.8,47,73.5,47,75,44.8,78,43.5,83,42.5,87,42,91]],
[-2,[41,84,40.3,78,40.8,75,43,74,45,75,44,77.5,43,81,42.5,84,41.8,85.5]],
[-3,[41.5,83,41,77,42,75,44,75.3,43.2,79,42.3,84]],
[1,[44.3,91,45.5,87,46.5,83,47.5,80.8,48.8,79.8,49.7,81,49.3,84,48,87,48.5,89,48.8,91]],
[2,[45.2,91,46.5,89.8,47.5,91]],
[1,[49.6,79,51,80.3,51,77.7,50,77.7]]
];

const panelEContours = [
[1,[-20.3,91,-20,88.5,-11.2,88.5,-11,91]],
[2,[-17,91,-16.5,88.7,-13,88.7,-12,91]],
[1,[-19.5,83,-19,86,-18.3,85.5,-17,83,-16,82.5,-15,85,-14,88.7,-12.5,88.7,-12.2,86,-11.8,83.5,-12.3,80,-13,78.5,-13.5,78.5,-14.5,80,-15.3,81.5,-16.5,81.8,-18,80,-19.4,80]],
[1,[-5.7,91,-5.7,88,-6.2,80,-7,75,-7.6,70,-6.6,68.4,-3,65.7,-1.7,65,-0.4,61.8,0.5,60.8,2.2,57.7,4.1,54.8,5.1,55,7,58.4,9.2,59,10,59.3,10,60,8.9,62.6,7.9,66.5,6.7,68.5,5.9,71,4.2,71,3.8,74,3.8,77.5,3.7,88,3.5,91]],
[1,[5.4,71,5.4,74,5,77,4,79,4,84,4.2,87,6.4,88.7,8,87.8,8.7,85,8.3,80.5,7.6,76,6.6,72,6,70]],
[1,[9.8,57.5,10.2,58,11.2,57.7,11.2,56.6,10,56.6]],
[2,[-4.5,91,-4.8,82,-4.9,75,-4.5,71,-3,69.3,-1.5,68,-0.2,67,1.3,68.8,2.5,72,3.3,77,2.9,85,3.2,91]],
[3,[-3.6,91,-3.9,82,-3.5,75.5,-2,72,-0.3,71,0.5,72.5,1.7,77,2.2,82,2.3,91]],
[4,[-2.6,91,-3,82,-2,77,-0.8,74.8,0.2,75,1,79,1.6,85,1.9,91]],
[5,[-1.7,91,-1.6,81,-0.9,79,0.2,79,1.3,83,1.4,91]],
[5,[-3,91,-2.5,88.9,2.5,88.9,3,91]],
[6,[-1.5,91,-1.2,88.5,1,88.5,1.3,91]],
[7,[-1.5,91,-1,88.9,0.9,88.9,1.2,91]],
[2,[5.9,84,6.6,87,7.4,85.8,7.6,83,7.2,80.7,6,80.7]],
[1,[27,91,27,86.5,28,84.6,29.2,85.5,29.5,88,29,91]],
[-1,[14.5,91,15,88.9,19,88.9,21,91]],
[-1,[23,91,23,88.7,24,88.4,24,83.6,24.2,88.5,25.6,88.9,26,91]],
[-1,[32,91,32.5,88.8,35.5,88.8,36,91]],
[-1,[43.7,91,44.5,88.7,50,88.7,51,91]],
[-1,[8.5,91,9,88.7,10,91]],
[-1,[44.8,80,45.3,84,46.5,85,48,84.8,50,84,51,84,51,70.3,49,70.5,47,72,45.5,75,44.8,78]],
[-1,[-1.2,46.5,-1,49.5,0,51.7,1,50,2.4,46,2.4,44.5,1.5,43,1.3,42.7,-0.2,42,-1,44]]
];

const panelFContours = [
[-1,[-31,91,-28.8,91,-29.5,84,-30,78,-31,76]],
[1,[-27.6,91,-27.5,85,-27.5,75,-27,72,-26.2,71.3,-25.2,73,-25.2,80,-24.5,85,-23.7,91]],
[2,[-27.3,91,-27,83,-26.2,79.7,-25.5,84,-24.5,91]],
[3,[-26.5,91,-26.3,87.7,-25.5,87,-25,91]],
[4,[-27,91,-26,88.7,-24.5,91]],
[5,[-27,91,-25.5,89,-25,91]],
[-1,[-23.2,91,-23,85,-22.8,80,-21.5,78,-20.6,78,-19.8,79.5,-20.2,82,-19.8,85,-18.7,89,-18,91]],
[-2,[-22.8,91,-22.7,87,-21.5,84.5,-20.3,85.5,-19.5,88,-19,91]],
[-3,[-22,91,-21,88.6,-19.8,91]],
[-4,[-21.5,91,-20.8,88.9,-20,91]],
[1,[-16.2,91,-16.2,89,-15,88,-14.3,82,-15,78.6,-15.6,76,-15.9,73.7,-15.3,73,-13.7,74.4,-12.7,76,-11.4,76.4,-10.1,75.2,-10,74,-9.2,76,-7.2,77.5,-4.7,75.9,-4.4,72.3,-3.7,68.9,-2.4,66.4,-0.5,64.6,1.7,62.6,4,60.2,6.6,57.7,6.9,56,8,56,8,59,9.1,60.4,8.5,62.3,7.7,66,5.1,69.8,5.1,75.6,4.3,79.5,5.1,82,7.2,83.6,8,88.7,8.5,91]],
[2,[-15,91,-14,88.8,-5,88.8,-2,91]],
[2,[-9,91,-9,88.5,-7.5,86.5,-6.5,86.5,-5.8,88.5,-5,91]],
[2,[-2.6,91,-2.7,80,-2.6,74,-2,70,0,67,2,64.8,3.5,63.7,5,64.5,5.2,68,5,75,3.5,80,3.5,91]],
[3,[-2,91,-2.2,80,-2,73,-0.5,70,1,68.2,2.5,67.5,3.5,69.5,3.3,75,3.3,80,3.2,91]],
[4,[-1.6,91,-1.7,82,-1,76,0.5,72.8,1.5,71,2.8,73,3.3,79,2.7,85,2.5,91]],
[5,[-1.2,91,-1.2,82,-0.5,78,0.5,75,1.5,74,2.2,76,2.6,81,2.2,91]],
[6,[-0.9,91,-0.6,83,0.2,79,1,76,1.8,79,2,85,1.8,91]],
[7,[-0.6,91,-0.3,83.6,0.5,83,1.2,85,1.4,91]],
[8,[-0.4,91,-0.1,86,0.6,84,1,88,1,91]],
[9,[-0.3,91,0,88,0.8,88,0.9,91]],
[6,[-2.5,91,-1,88.8,2.5,88.8,3,91]],
[1,[14.6,91,14.6,85,14.2,82,14.7,79.3,15.4,79.6,16,82,17,84.5,18.5,86.5,19.5,88.5,20.2,91]],
[-1,[29.7,91,31,87.7,32.7,91]]
];

/* ---------- drawing ---------- */
const NS = 'http://www.w3.org/2000/svg';
const root = document.getElementById('plots');

function svgEl(tag, attrs, parent) {
  const el = document.createElementNS(NS, tag);
  for (const k in attrs) el.setAttribute(k, attrs[k]);
  parent.appendChild(el);
  return el;
}

function bandColor(band) {
  if (band === 0) return '#ffffff';
  return band > 0 ? warmBands[band - 1] : coolBands[-band - 1];
}

function smoothClosedPath(points) {
  const n = points.length;
  let d = 'M' + points[0][0].toFixed(1) + ' ' + points[0][1].toFixed(1);
  for (let i = 0; i < n; i++) {
    const p0 = points[(i - 1 + n) % n], p1 = points[i], p2 = points[(i + 1) % n], p3 = points[(i + 2) % n];
    const c1x = p1[0] + (p2[0] - p0[0]) / 6, c1y = p1[1] + (p2[1] - p0[1]) / 6;
    const c2x = p2[0] - (p3[0] - p1[0]) / 6, c2y = p2[1] - (p3[1] - p1[1]) / 6;
    d += 'C' + c1x.toFixed(1) + ' ' + c1y.toFixed(1) + ' ' + c2x.toFixed(1) + ' ' + c2y.toFixed(1) + ' ' + p2[0].toFixed(1) + ' ' + p2[1].toFixed(1);
  }
  return d + 'Z';
}

function drawPanel(id, contours, left, top, width, height) {
  const xScale = day => left + (day + 30) / 80 * width;
  const yScale = lat => top + (90 - lat) / 60 * height;

  const g = svgEl('g', {}, root);
  
  

  const clip = svgEl('clipPath', { id: 'clip-' + id }, g);
  
  
  svgEl('rect', { x: xScale(-30), y: yScale(89.05), width: xScale(50) - xScale(-30), height: yScale(30) - yScale(89.05) }, clip);

  const field = svgEl('g', { 'clip-path': 'url(#clip-' + id + ')' }, g);
  
  

  const ordered = contours.slice().sort((p, q) => {
    const pk = p[0] === 0 ? 99 : Math.abs(p[0]);
    const qk = q[0] === 0 ? 99 : Math.abs(q[0]);
    return pk - qk;
  });
  ordered.forEach(item => {
    const band = item[0], flat = item[1], pts = [];
    for (let i = 0; i < flat.length; i += 2) pts.push([xScale(flat[i]), yScale(flat[i + 1])]);
    const path = svgEl('path', { d: smoothClosedPath(pts), fill: bandColor(band) }, field);
    
    
  });

  const axisColor = '#4d4d4d';
  const frame = [
    ['top-axis-line', left - 5, top, left + width + 5, top, 2.2],
    ['bottom-axis-line', left - 5, top + height, left + width + 5, top + height, 2.2],
    ['left-axis-line', left, top, left, top + height, 1.3],
    ['right-axis-line', left + width, top, left + width, top + height, 1.3]
  ];
  frame.forEach(f => {
    const line = svgEl('line', { x1: f[1], y1: f[2], x2: f[3], y2: f[4], stroke: axisColor, 'stroke-width': f[5] }, g);
    
    
  });

  xTickDays.forEach(day => {
    const x = xScale(day);
    const tickTop = svgEl('line', { x1: x, y1: top, x2: x, y2: top - 5, stroke: axisColor, 'stroke-width': 1.2 }, g);
    
    
    const tickBottom = svgEl('line', { x1: x, y1: top + height, x2: x, y2: top + height + 5, stroke: axisColor, 'stroke-width': 1.2 }, g);
    
    
    const label = svgEl('text', { x: x, y: top + height + 38, 'text-anchor': 'middle', 'font-size': 24 }, g);
    
    
    label.textContent = String(day);
  });

  yTickLats.forEach(lat => {
    const y = yScale(lat);
    const tickLeft = svgEl('line', { x1: left, y1: y, x2: left - 5, y2: y, stroke: axisColor, 'stroke-width': 1.3 }, g);
    
    
    const tickRight = svgEl('line', { x1: left + width, y1: y, x2: left + width + 5, y2: y, stroke: axisColor, 'stroke-width': 1.3 }, g);
    
    
    const label = svgEl('text', { x: left - 13, y: y + 14, 'text-anchor': 'end', 'font-size': 24 }, g);
    
    
    const num = svgEl('tspan', {}, label);
    num.textContent = String(lat);
    const deg = svgEl('tspan', { 'font-size': 19, dy: -10 }, label);
    deg.textContent = '°';
    const north = svgEl('tspan', { dy: 10 }, label);
    north.textContent = 'N';
  });

  const marker = svgEl('line', { x1: xScale(eventDay), y1: top, x2: xScale(eventDay), y2: top + height, stroke: '#3f3ff4', 'stroke-width': 4.6 }, g);
  
  
}

function drawColorbar(id, ticks, maxValue, left, top, width, height) {
  const g = svgEl('g', {}, root);
  
  
  const yScale = v => top + (maxValue - v) / (2 * maxValue) * height;
  const binH = height / 20;
  const colors = warmBands.slice().reverse().concat(['#ffffff', '#ffffff'], coolBands);
  colors.forEach((c, i) => {
    const r = svgEl('rect', { x: left, y: top + i * binH, width: width, height: binH + 0.3, fill: c }, g);
    
    
  });
  const box = svgEl('rect', { x: left, y: top, width: width, height: height, fill: 'none', stroke: '#555', 'stroke-width': 1.3 }, g);
  
  
  ticks.forEach(v => {
    const y = yScale(v);
    const t = svgEl('line', { x1: left + width - 3, y1: y, x2: left + width, y2: y, stroke: '#222', 'stroke-width': 1.3 }, g);
    
    
    const label = svgEl('text', { x: left + width + 10, y: y + 8, 'font-size': 24 }, g);
    
    
    label.textContent = String(v);
  });
}

drawPanel('a', panelAContours, 117.3, 51.7, 822, 410.5);
drawPanel('b', panelBContours, 1079.8, 51.7, 821.3, 410.5);
drawPanel('c', panelCContours, 117.3, 559.3, 822, 410.5);
drawPanel('d', panelDContours, 1079.8, 559.3, 821.3, 410.5);
drawPanel('e', panelEContours, 117.3, 1064.7, 822, 412.6);
drawPanel('f', panelFContours, 1079.8, 1064.7, 821.3, 412.6);
drawColorbar('top', duBarTicks, 15, 1932.7, 51.7, 27.3, 410.5);
drawColorbar('middle', ppmvBarTicks, 0.2, 1932.7, 559.3, 27.3, 410.5);
drawColorbar('bottom', ppmvBarTicks, 0.2, 1932.7, 1064.7, 27.3, 412.6);
</script>
</body>
</html>
